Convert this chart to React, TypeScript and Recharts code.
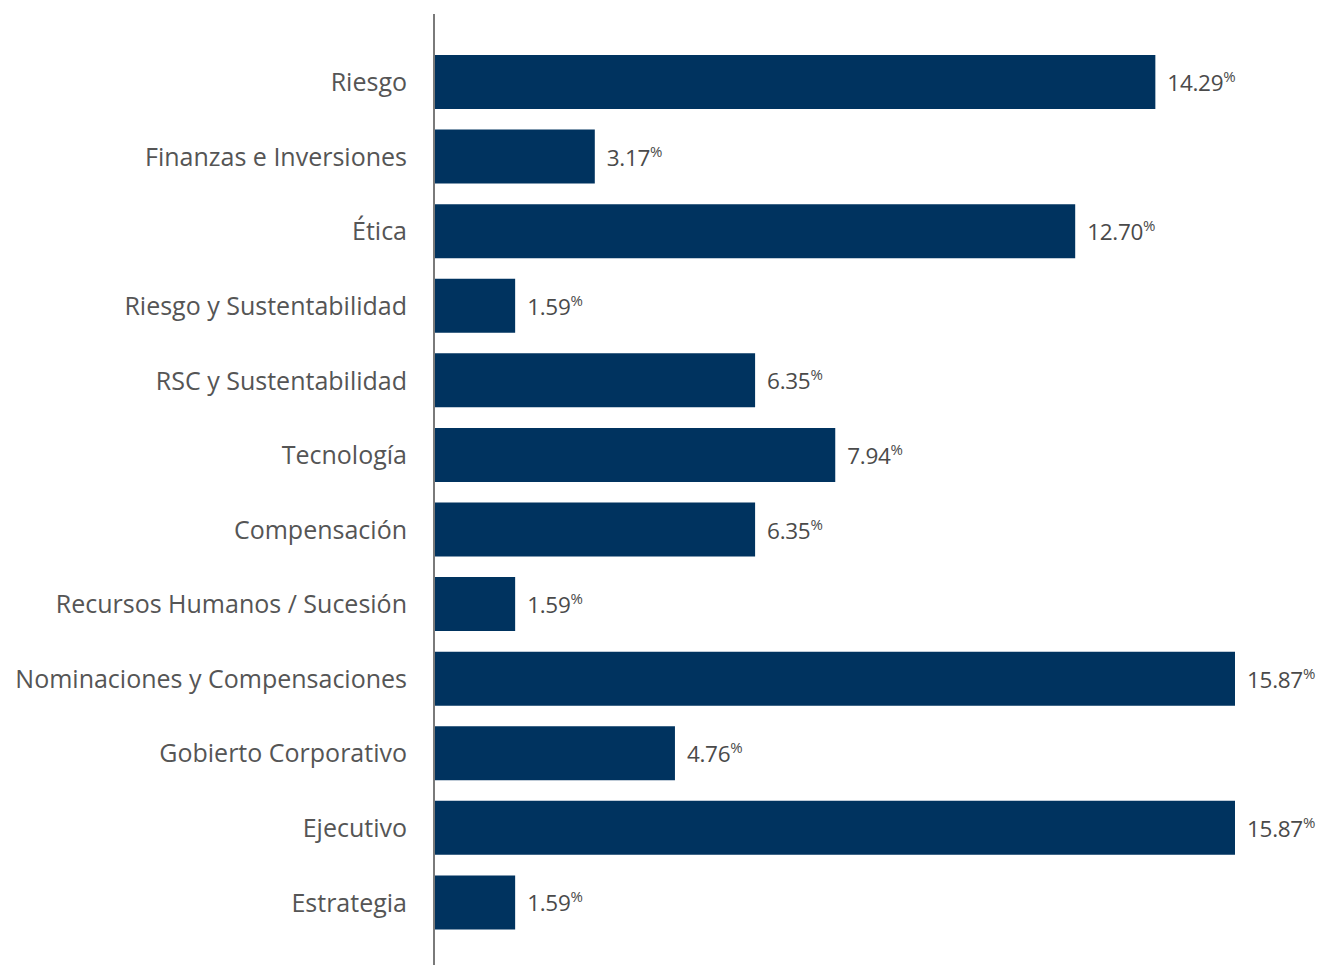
import { BarChart, Bar, XAxis, YAxis, LabelList } from "recharts";

const categories = [
  "Riesgo",
  "Finanzas e Inversiones",
  "Ética",
  "Riesgo y Sustentabilidad",
  "RSC y Sustentabilidad",
  "Tecnología",
  "Compensación",
  "Recursos Humanos / Sucesión",
  "Nominaciones y Compensaciones",
  "Gobierto Corporativo",
  "Ejecutivo",
  "Estrategia",
];

const shares = [14.29, 3.17, 12.7, 1.59, 6.35, 7.94, 6.35, 1.59, 15.87, 4.76, 15.87, 1.59];

const data = categories.map((name, i) => ({ name, value: shares[i] }));

const FONT = "'Open Sans', sans-serif";

const ValueLabel = (props: any) => {
  const { x, y, width, height, value } = props;
  return (
    <text
      x={x + width + 12}
      y={y + height / 2 + 9}
      fill="#4a4a4a"
      fontFamily={FONT}
      fontSize={22.5}
      letterSpacing={-0.3}
    >
      <tspan>{Number(value).toFixed(2)}</tspan>
      <tspan fontSize={15} dy={-9}>%</tspan>
    </text>
  );
};

export default function App() {
  return (
    <div style={{ position: "absolute", left: 0, top: 0, width: 1319, height: 965, background: "#fff" }}>
      <BarChart
        width={1319}
        height={965}
        data={data}
        layout="vertical"
        margin={{ top: 45, right: 84, bottom: 25, left: 0 }}
      >
        <XAxis type="number" domain={[0, 15.87]} hide />
        <YAxis
          type="category"
          dataKey="name"
          width={435}
          axisLine={false}
          tickLine={false}
          tickSize={0}
          tickMargin={28}
          interval={0}
          tick={{ fill: "#555", fontSize: 25, fontFamily: FONT }}
        />
        <Bar dataKey="value" fill="#00335f" barSize={54} isAnimationActive={false}>
          <LabelList dataKey="value" content={ValueLabel} />
        </Bar>
      </BarChart>
      <div style={{ position: "absolute", left: 433, top: 14, width: 2, height: 951, background: "#7a7a7a" }} />
    </div>
  );
}
